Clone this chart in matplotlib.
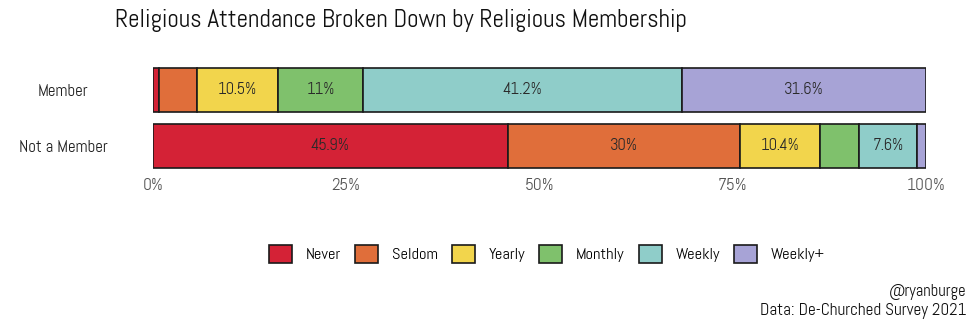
import matplotlib
matplotlib.use("Agg")
import matplotlib.pyplot as plt
from matplotlib.patches import Patch

plt.rcParams["font.family"] = ["Abel", "DejaVu Sans"]

groups = ["Member", "Not a Member"]
categories = ["Never", "Seldom", "Yearly", "Monthly", "Weekly", "Weekly+"]
member = [0.8, 4.9, 10.5, 11.0, 41.2, 31.6]
not_member = [45.9, 30.0, 10.4, 5.0, 7.6, 1.1]
colors = ["#D42236", "#E06E3A", "#F2D54C", "#7FC16C", "#8FCDC9", "#A7A3D6"]
tick_vals = [0, 25, 50, 75, 100]
tick_labels = ["0%", "25%", "50%", "75%", "100%"]

fig = plt.figure(figsize=(9.75, 3.25), dpi=100)
ax = fig.add_axes([153 / 975, 1 - 174 / 325, 773 / 975, 112 / 325])

rows = {1: member, 0: not_member}
for ypos, vals in rows.items():
    left = 0.0
    for val, col in zip(vals, colors):
        ax.barh(ypos, val, left=left, height=0.79, color=col,
                edgecolor="#1a1a1a", linewidth=1.2)
        if val > 6:
            ax.text(left + val / 2, ypos, f"{val:g}%", ha="center", va="center",
                    fontsize=12, color="#2a2a2a")
        left += val

ax.set_xlim(0, 100)
ax.set_ylim(-0.5, 1.5)
ax.set_yticks([1, 0])
ax.set_yticklabels(groups, fontsize=12.2, color="#222222")
for lab in ax.get_yticklabels():
    lab.set_horizontalalignment("center")
ax.set_xticks(tick_vals)
ax.set_xticklabels(tick_labels, fontsize=12.5, color="#555555")
ax.tick_params(length=0)
ax.tick_params(axis="x", pad=3)
ax.tick_params(axis="y", pad=64.8)
for s in ax.spines.values():
    s.set_visible(False)

fig.text(115 / 975, 1 - 20 / 325, "Religious Attendance Broken Down by Religious Membership",
         fontsize=18.2, ha="left", va="center", color="#111111")

handles = [Patch(facecolor=c, edgecolor="#1a1a1a", linewidth=1.2, label=l)
           for c, l in zip(colors, categories)]
fig.legend(handles=handles, loc="center", bbox_to_anchor=(547 / 975, 1 - 254 / 325),
           ncol=6, frameon=False, fontsize=11.8, handlelength=1.4, handleheight=1.4,
           handletextpad=0.85, columnspacing=0.85, borderpad=0)

fig.text(966 / 975, 1 - 292 / 325, "@ryanburge", ha="right", va="center",
         fontsize=12, color="#111111")
fig.text(966 / 975, 1 - 311 / 325, "Data: De-Churched Survey 2021", ha="right",
         va="center", fontsize=12.3, color="#111111")

fig.savefig("out.png", dpi=100, facecolor="white")
